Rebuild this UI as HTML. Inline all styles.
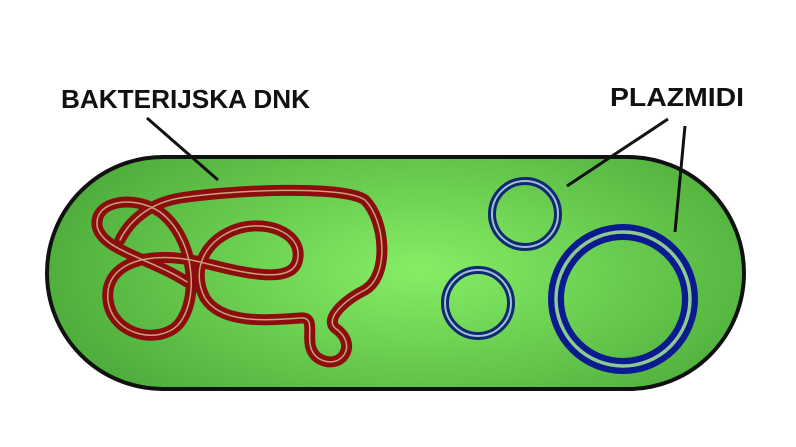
<!DOCTYPE html>
<html><head><meta charset="utf-8"><style>
html,body{margin:0;padding:0;background:#fff;width:796px;height:447px;overflow:hidden}
</style></head><body>
<svg width="796" height="447" viewBox="0 0 796 447" xmlns="http://www.w3.org/2000/svg">
<defs>
<radialGradient id="g" cx="420" cy="270" r="380" gradientUnits="userSpaceOnUse" gradientTransform="translate(420 270) scale(1 0.45) translate(-420 -270)">
<stop offset="0" stop-color="#86ee66"/><stop offset="1" stop-color="#4fae3c"/>
</radialGradient>
</defs>
<rect x="47" y="157" width="697" height="232" rx="116" ry="116" fill="url(#g)" stroke="#111" stroke-width="4"/>
<g fill="none" stroke-linecap="round" stroke-linejoin="round">
<path d="M187 282 C150 258 100 250 97 225 C95 200 135 195 160 212 C195 238 200 300 178 325 C158 345 112 335 108 300 C104 262 150 250 200 262 C240 272 290 285 297 262 C305 235 270 220 240 228 C205 238 190 270 205 298 C222 325 270 320 300 318 C320 316 300 345 318 358 C340 372 360 345 335 328 C325 318 345 300 365 290 C390 275 385 220 365 200 C345 185 230 190 180 198 C150 203 130 220 120 240" stroke="#8b0d0d" stroke-width="11"/>
<path d="M187 282 C150 258 100 250 97 225 C95 200 135 195 160 212 C195 238 200 300 178 325 C158 345 112 335 108 300 C104 262 150 250 200 262 C240 272 290 285 297 262 C305 235 270 220 240 228 C205 238 190 270 205 298 C222 325 270 320 300 318 C320 316 300 345 318 358 C340 372 360 345 335 328 C325 318 345 300 365 290 C390 275 385 220 365 200 C345 185 230 190 180 198 C150 203 130 220 120 240" stroke="#c9a27a" stroke-width="1.5"/>
</g>
<g fill="none">
<circle cx="525" cy="214" r="33" stroke="#0f2a6e" stroke-width="8"/>
<circle cx="525" cy="214" r="33" stroke="#9fc0d8" stroke-width="2"/>
<circle cx="478" cy="303" r="33" stroke="#0f2a6e" stroke-width="8"/>
<circle cx="478" cy="303" r="33" stroke="#9fc0d8" stroke-width="2"/>
<circle cx="623" cy="299" r="67" stroke="#0a1a8f" stroke-width="16"/>
<circle cx="623" cy="299" r="67" stroke="#8fc890" stroke-width="3.5"/>
</g>
<g stroke="#111" stroke-width="3">
<line x1="147" y1="118" x2="218" y2="180"/>
<line x1="668" y1="119" x2="567" y2="186"/>
<line x1="685" y1="126" x2="675" y2="232"/>
</g>
<g font-family="Liberation Sans, sans-serif" font-weight="bold" font-size="26" fill="#111">
<text x="61" y="108" textLength="249" lengthAdjust="spacingAndGlyphs">BAKTERIJSKA DNK</text>
<text x="610" y="106" textLength="134" lengthAdjust="spacingAndGlyphs">PLAZMIDI</text>
</g>
</svg>
</body></html>
